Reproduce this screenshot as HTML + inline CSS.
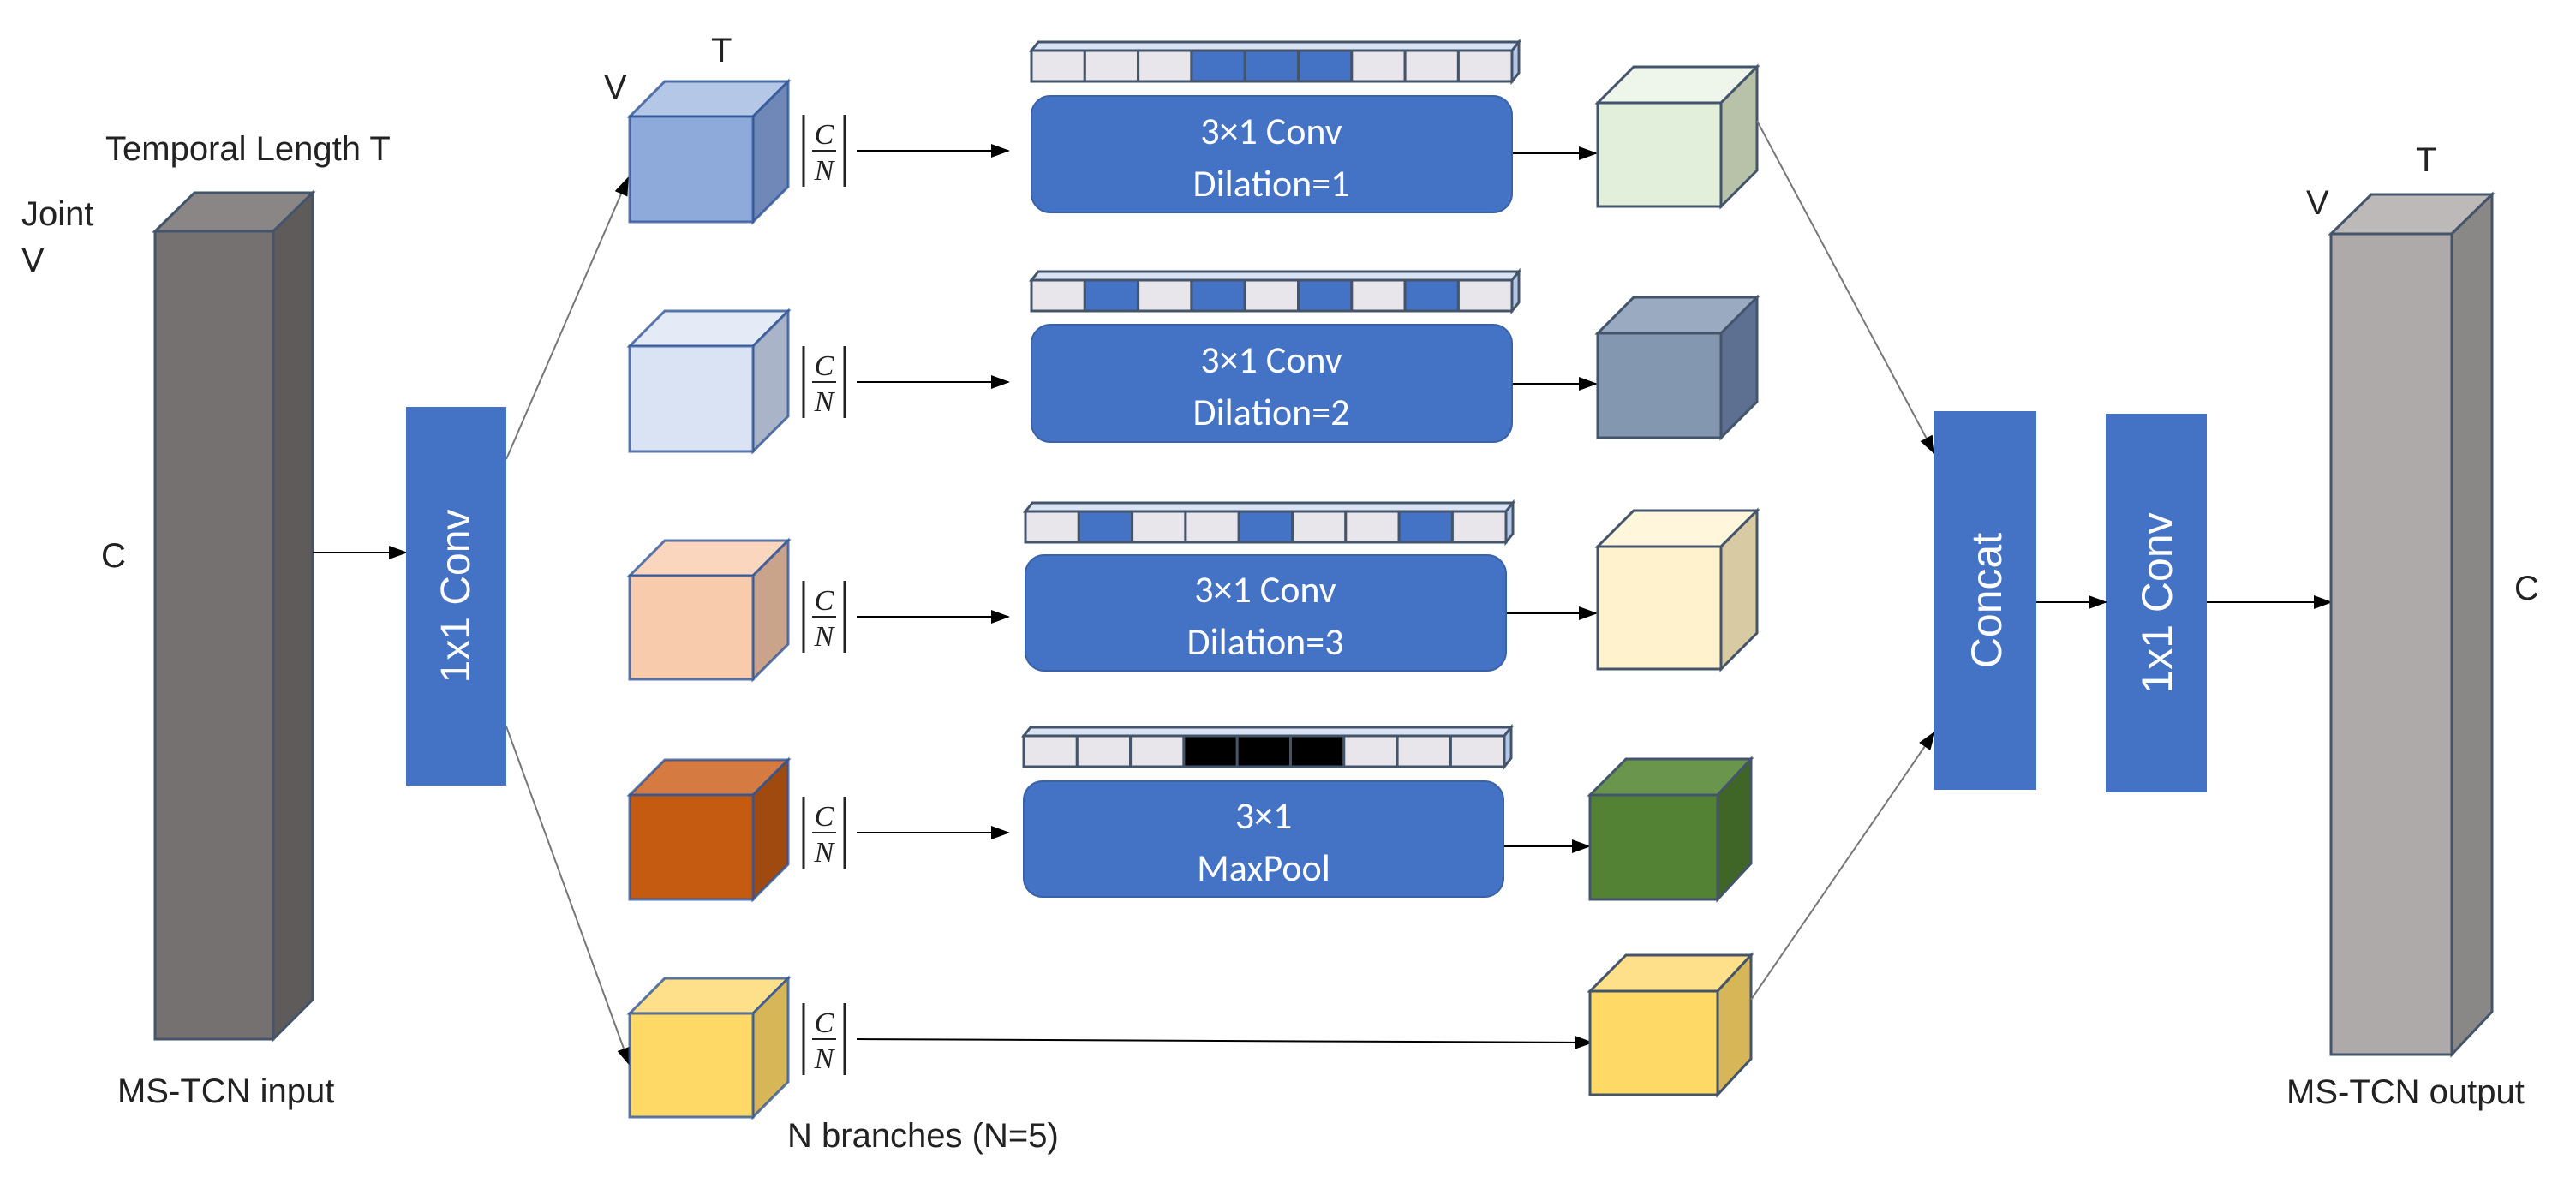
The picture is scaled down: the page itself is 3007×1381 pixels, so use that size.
<!DOCTYPE html>
<html><head><meta charset="utf-8"><style>
html,body{margin:0;padding:0;background:#fff;}
svg{display:block;}
.lbl{font-family:"Liberation Sans",sans-serif;font-size:40px;fill:#222;}
.bx{font-family:"Carlito","Liberation Sans",sans-serif;font-size:44px;fill:#fff;}
.fr{font-family:"Liberation Serif",serif;font-style:italic;font-size:34px;fill:#222;}
</style></head><body>
<svg width="3007" height="1381" viewBox="0 0 3007 1381" xmlns="http://www.w3.org/2000/svg">
<defs>
<marker id="ar" markerWidth="10" markerHeight="10" refX="9" refY="5" orient="auto" markerUnits="userSpaceOnUse" viewBox="0 0 10 10">
<path d="M0,0 L10,5 L0,10 z" fill="#000"/></marker>
<marker id="arb" markerWidth="22" markerHeight="22" refX="20" refY="11" orient="auto" markerUnits="userSpaceOnUse" viewBox="0 0 22 22">
<path d="M0,3 L22,11 L0,19 z" fill="#000"/></marker>
</defs>

<!-- Input bar -->
<g stroke="#44546a" stroke-width="3">
<polygon points="181,270 227,225 365,225 319,270" fill="#8a8686"/>
<polygon points="319,270 365,225 365,1167 319,1213" fill="#5f5b5b"/>
<rect x="181" y="270" width="138" height="943" fill="#767171"/>
</g>
<text class="lbl" x="123" y="187">Temporal Length T</text>
<text class="lbl" x="25" y="263">Joint</text>
<text class="lbl" x="25" y="317">V</text>
<text class="lbl" x="118" y="662">C</text>
<text class="lbl" x="137" y="1287">MS-TCN input</text>

<!-- arrow input -> conv -->
<line x1="365" y1="645" x2="474" y2="645" stroke="#000" stroke-width="2" marker-end="url(#arb)"/>

<!-- 1x1 conv left -->
<rect x="474" y="475" width="117" height="442" fill="#4472c4"/>
<text class="lbl" fill="#fff" style="fill:#fff;font-size:48px" transform="translate(548,696) rotate(-90)" text-anchor="middle">1x1 Conv</text>

<!-- fan out lines -->
<line x1="591" y1="536" x2="733" y2="208" stroke="#777" stroke-width="2" marker-end="url(#arb)"/>
<line x1="591" y1="848" x2="735" y2="1243" stroke="#777" stroke-width="2" marker-end="url(#arb)"/>

<!-- left cubes -->
<g stroke="#2f5597" stroke-width="3" stroke-opacity="0.8">
<polygon points="735,136 776,95 920,95 879,136" fill="#b4c7e7"/>
<polygon points="879,136 920,95 920,218 879,259" fill="#6f88b8"/>
<rect x="735" y="136" width="144" height="123" fill="#8eaadb"/>

<polygon points="735,404 776,363 920,363 879,404" fill="#e4ebf7"/>
<polygon points="879,404 920,363 920,486 879,527" fill="#aab4c8"/>
<rect x="735" y="404" width="144" height="123" fill="#dae3f3"/>

<polygon points="735,672 776,631 920,631 879,672" fill="#f9d6bd"/>
<polygon points="879,672 920,631 920,752 879,793" fill="#c9a38a"/>
<rect x="735" y="672" width="144" height="121" fill="#f8cbad"/>

<polygon points="735,928 776,887 920,887 879,928" fill="#d57a40"/>
<polygon points="879,928 920,887 920,1009 879,1050" fill="#a04a10"/>
<rect x="735" y="928" width="144" height="122" fill="#c55a11"/>

<polygon points="735,1183 776,1142 920,1142 879,1183" fill="#ffe08a"/>
<polygon points="879,1183 920,1142 920,1263 879,1304" fill="#d6b656"/>
<rect x="735" y="1183" width="144" height="121" fill="#ffd966"/>
</g>
<text class="lbl" x="830" y="72">T</text>
<text class="lbl" x="705" y="115">V</text>

<!-- fractions and lines -->
<g>
<g id="f1" transform="translate(0,176)">
<line x1="938" y1="-42" x2="938" y2="42" stroke="#222" stroke-width="3"/>
<line x1="986" y1="-42" x2="986" y2="42" stroke="#222" stroke-width="3"/>
<line x1="948" y1="0" x2="976" y2="0" stroke="#222" stroke-width="2"/>
<text class="fr" x="962" y="-8" text-anchor="middle">C</text>
<text class="fr" x="962" y="34" text-anchor="middle">N</text>
</g>
<use href="#f1" transform="translate(0,270)"/>
<use href="#f1" transform="translate(0,544)"/>
<use href="#f1" transform="translate(0,796)"/>
<use href="#f1" transform="translate(0,1037)"/>
</g>
<g stroke="#000" stroke-width="2">
<line x1="1000" y1="176" x2="1177" y2="176" marker-end="url(#arb)"/>
<line x1="1000" y1="446" x2="1177" y2="446" marker-end="url(#arb)"/>
<line x1="1000" y1="720" x2="1177" y2="720" marker-end="url(#arb)"/>
<line x1="1000" y1="972" x2="1177" y2="972" marker-end="url(#arb)"/>
<line x1="1000" y1="1213" x2="1858" y2="1217" marker-end="url(#arb)"/>
<line x1="1765" y1="179" x2="1863" y2="179" marker-end="url(#arb)"/>
<line x1="1765" y1="448" x2="1863" y2="448" marker-end="url(#arb)"/>
<line x1="1758" y1="716" x2="1863" y2="716" marker-end="url(#arb)"/>
<line x1="1755" y1="988" x2="1855" y2="988" marker-end="url(#arb)"/>
</g>
<text class="lbl" x="919" y="1339">N branches  (N=5)</text>

<!-- strips -->
<g id="s1" stroke="#44546a" stroke-width="3">
<polygon points="1204,59 1212,49 1773,49 1765,59" fill="#dae3f3"/>
<polygon points="1765,59 1773,49 1773,85 1765,95" fill="#b4c7e7"/>
</g>
<g stroke="#44546a" stroke-width="3">
<rect x="1204" y="59" width="62.3" height="36" fill="#e8e6ea"/><rect x="1266.3" y="59" width="62.3" height="36" fill="#e8e6ea"/><rect x="1328.6" y="59" width="62.3" height="36" fill="#e8e6ea"/>
<rect x="1390.9" y="59" width="62.3" height="36" fill="#4472c4"/><rect x="1453.2" y="59" width="62.3" height="36" fill="#4472c4"/><rect x="1515.5" y="59" width="62.3" height="36" fill="#4472c4"/>
<rect x="1577.8" y="59" width="62.3" height="36" fill="#e8e6ea"/><rect x="1640.1" y="59" width="62.3" height="36" fill="#e8e6ea"/><rect x="1702.4" y="59" width="62.6" height="36" fill="#e8e6ea"/>
</g>
<g transform="translate(0,268)">
<g stroke="#44546a" stroke-width="3">
<polygon points="1204,59 1212,49 1773,49 1765,59" fill="#dae3f3"/>
<polygon points="1765,59 1773,49 1773,85 1765,95" fill="#b4c7e7"/>
<rect x="1204" y="59" width="62.3" height="36" fill="#e8e6ea"/><rect x="1266.3" y="59" width="62.3" height="36" fill="#4472c4"/><rect x="1328.6" y="59" width="62.3" height="36" fill="#e8e6ea"/>
<rect x="1390.9" y="59" width="62.3" height="36" fill="#4472c4"/><rect x="1453.2" y="59" width="62.3" height="36" fill="#e8e6ea"/><rect x="1515.5" y="59" width="62.3" height="36" fill="#4472c4"/>
<rect x="1577.8" y="59" width="62.3" height="36" fill="#e8e6ea"/><rect x="1640.1" y="59" width="62.3" height="36" fill="#4472c4"/><rect x="1702.4" y="59" width="62.6" height="36" fill="#e8e6ea"/>
</g></g>
<g transform="translate(-7,538)">
<g stroke="#44546a" stroke-width="3">
<polygon points="1204,59 1212,49 1773,49 1765,59" fill="#dae3f3"/>
<polygon points="1765,59 1773,49 1773,85 1765,95" fill="#b4c7e7"/>
<rect x="1204" y="59" width="62.3" height="36" fill="#e8e6ea"/><rect x="1266.3" y="59" width="62.3" height="36" fill="#4472c4"/><rect x="1328.6" y="59" width="62.3" height="36" fill="#e8e6ea"/>
<rect x="1390.9" y="59" width="62.3" height="36" fill="#e8e6ea"/><rect x="1453.2" y="59" width="62.3" height="36" fill="#4472c4"/><rect x="1515.5" y="59" width="62.3" height="36" fill="#e8e6ea"/>
<rect x="1577.8" y="59" width="62.3" height="36" fill="#e8e6ea"/><rect x="1640.1" y="59" width="62.3" height="36" fill="#4472c4"/><rect x="1702.4" y="59" width="62.6" height="36" fill="#e8e6ea"/>
</g></g>
<g transform="translate(-9,800)">
<g stroke="#44546a" stroke-width="3">
<polygon points="1204,59 1212,49 1773,49 1765,59" fill="#dae3f3"/>
<polygon points="1765,59 1773,49 1773,85 1765,95" fill="#b4c7e7"/>
<rect x="1204" y="59" width="62.3" height="36" fill="#e8e6ea"/><rect x="1266.3" y="59" width="62.3" height="36" fill="#e8e6ea"/><rect x="1328.6" y="59" width="62.3" height="36" fill="#e8e6ea"/>
<rect x="1390.9" y="59" width="62.3" height="36" fill="#000"/><rect x="1453.2" y="59" width="62.3" height="36" fill="#000"/><rect x="1515.5" y="59" width="62.3" height="36" fill="#000"/>
<rect x="1577.8" y="59" width="62.3" height="36" fill="#e8e6ea"/><rect x="1640.1" y="59" width="62.3" height="36" fill="#e8e6ea"/><rect x="1702.4" y="59" width="62.6" height="36" fill="#e8e6ea"/>
</g></g>

<!-- conv boxes -->
<g fill="#4472c4" stroke="#3a62a8" stroke-width="2">
<rect x="1204" y="112" width="561" height="136" rx="22"/>
<rect x="1204" y="379" width="561" height="137" rx="22"/>
<rect x="1197" y="648" width="561" height="135" rx="22"/>
<rect x="1195" y="912" width="560" height="135" rx="22"/>
</g>
<g class="bx" text-anchor="middle">
<text class="bx" x="1484" y="168" text-anchor="middle">3×1 Conv</text>
<text class="bx" x="1484" y="229" text-anchor="middle">Dilation=1</text>
<text class="bx" x="1484" y="435" text-anchor="middle">3×1 Conv</text>
<text class="bx" x="1484" y="496" text-anchor="middle">Dilation=2</text>
<text class="bx" x="1477" y="703" text-anchor="middle">3×1 Conv</text>
<text class="bx" x="1477" y="764" text-anchor="middle">Dilation=3</text>
<text class="bx" x="1475" y="967" text-anchor="middle">3×1</text>
<text class="bx" x="1475" y="1028" text-anchor="middle">MaxPool</text>
</g>

<!-- right cubes -->
<g stroke="#44546a" stroke-width="3">
<polygon points="1865,120 1907,78 2051,78 2009,120" fill="#eef5ea"/>
<polygon points="2009,120 2051,78 2051,199 2009,241" fill="#b8c2a8"/>
<rect x="1865" y="120" width="144" height="121" fill="#e2efda"/>

<polygon points="1865,389 1907,347 2051,347 2009,389" fill="#9aaac0"/>
<polygon points="2009,389 2051,347 2051,469 2009,511" fill="#5e7091"/>
<rect x="1865" y="389" width="144" height="122" fill="#8497b0"/>

<polygon points="1865,638 1907,596 2051,596 2009,638" fill="#fff6dc"/>
<polygon points="2009,638 2051,596 2051,739 2009,781" fill="#d8cba3"/>
<rect x="1865" y="638" width="144" height="143" fill="#fff2cc"/>

<polygon points="1856,928 1898,886 2044,886 2005,928" fill="#6a954c"/>
<polygon points="2005,928 2044,886 2044,1008 2005,1050" fill="#3f6527"/>
<rect x="1856" y="928" width="149" height="122" fill="#548235"/>

<polygon points="1856,1157 1898,1115 2044,1115 2005,1157" fill="#ffe08a"/>
<polygon points="2005,1157 2044,1115 2044,1236 2005,1278" fill="#d6b656"/>
<rect x="1856" y="1157" width="149" height="121" fill="#ffd966"/>
</g>

<!-- converge lines -->
<line x1="2051" y1="141" x2="2258" y2="529" stroke="#777" stroke-width="2" marker-end="url(#arb)"/>
<line x1="2044" y1="1167" x2="2258" y2="855" stroke="#777" stroke-width="2" marker-end="url(#arb)"/>

<!-- concat / conv -->
<rect x="2258" y="480" width="119" height="442" fill="#4472c4"/>
<text style="font-family:'Liberation Sans',sans-serif;font-size:50px;fill:#fff" transform="translate(2336,701) rotate(-90)" text-anchor="middle">Concat</text>
<rect x="2458" y="483" width="118" height="442" fill="#4472c4"/>
<text style="font-family:'Liberation Sans',sans-serif;font-size:50px;fill:#fff" transform="translate(2535,704) rotate(-90)" text-anchor="middle">1x1 Conv</text>
<line x1="2377" y1="703" x2="2458" y2="703" stroke="#000" stroke-width="2" marker-end="url(#arb)"/>
<line x1="2576" y1="703" x2="2721" y2="703" stroke="#000" stroke-width="2" marker-end="url(#arb)"/>

<!-- output bar -->
<g stroke="#44546a" stroke-width="3">
<polygon points="2721,273 2768,227 2909,227 2862,273" fill="#bdb9b9"/>
<polygon points="2862,273 2909,227 2909,1181 2862,1231" fill="#8a8787"/>
<rect x="2721" y="273" width="141" height="958" fill="#aeaaaa"/>
</g>
<text class="lbl" x="2820" y="200">T</text>
<text class="lbl" x="2692" y="250">V</text>
<text class="lbl" x="2935" y="700">C</text>
<text class="lbl" x="2669" y="1288">MS-TCN output</text>
</svg>
</body></html>
